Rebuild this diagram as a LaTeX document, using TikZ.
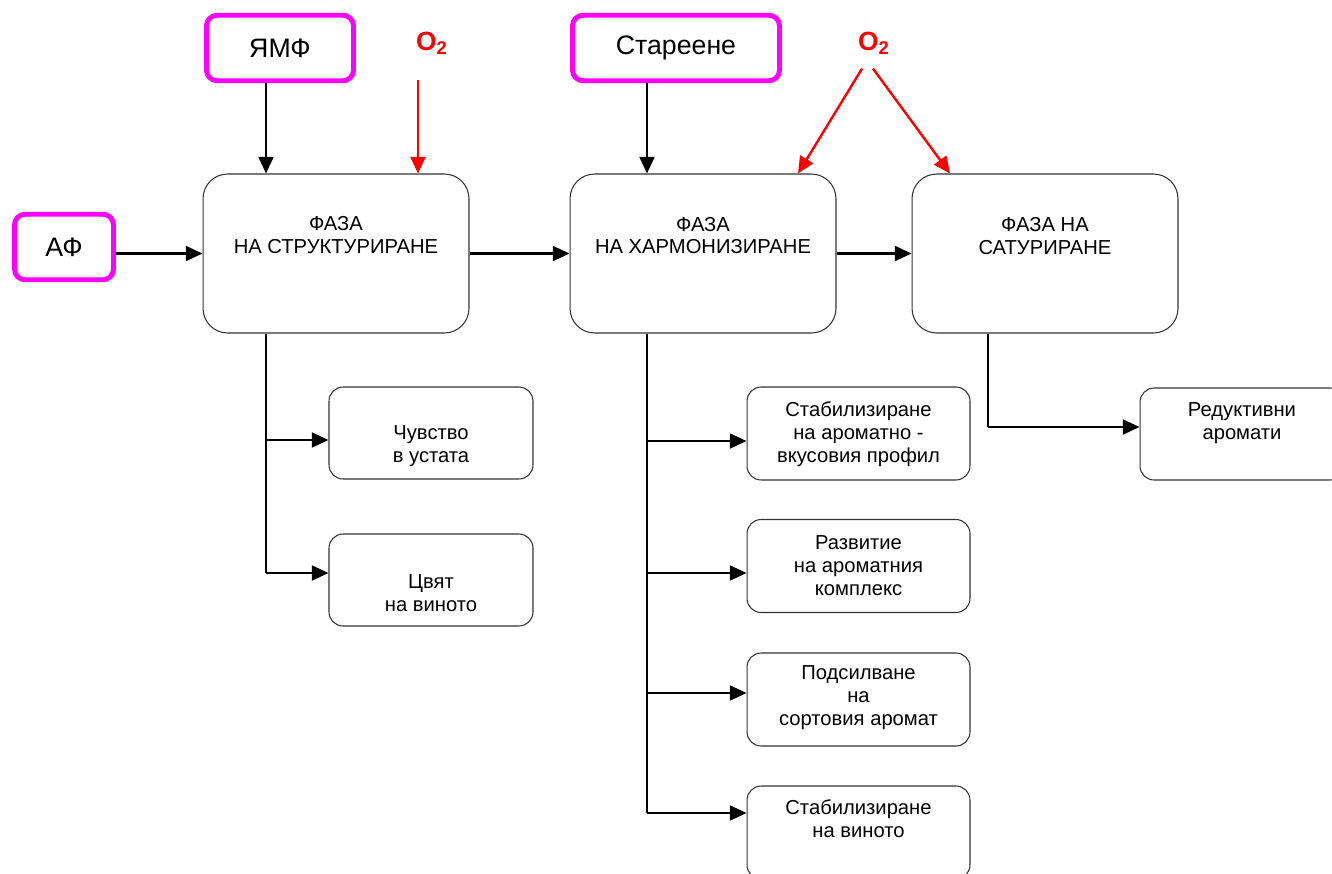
\documentclass[tikz,border=0pt]{standalone}
\usepackage{fontspec}
\setmainfont{Liberation Sans}
\usepackage{tikz}
\usetikzlibrary{arrows.meta}
\usetikzlibrary{calc}

\definecolor{mag}{RGB}{255,0,255}
\definecolor{oxred}{RGB}{255,0,0}

\tikzset{
  phasebox/.style={draw=black!80, line width=0.6pt, rounded corners=14pt,
    minimum width=5.32cm, minimum height=3.18cm},
  subbox/.style={draw=black!80, line width=0.6pt, rounded corners=8pt,
    minimum width=4.08cm, minimum height=1.84cm},
  subwide/.style={subbox, minimum width=4.46cm, minimum height=1.86cm},
  source/.style={draw=mag, line width=2.8pt, rounded corners=6pt,
    minimum height=1.31cm, font=\fontsize{15.2}{18}\selectfont},
  txt/.style={align=center, inner sep=0pt, font=\fontsize{11.5}{13}\selectfont},
  oxy/.style={text=oxred, inner sep=0pt, font=\fontsize{15}{18}\selectfont\bfseries},
  arr/.style={-{Triangle[length=9.5pt,width=8.5pt]}, line width=1.35pt},
  branch/.style={line width=0.7pt}
}

\begin{document}
\begin{tikzpicture}[x=0.02cm,y=-0.02cm]
\useasboundingbox (0,0) rectangle (1332,873);
\clip (0,0) rectangle (1332,873);

% inputs
\node[source, minimum width=2.94cm] (ymf) at (280,48) {ЯМФ};
\node[source, minimum width=4.14cm] (ageing) at (676,48) {Стареене};
\node[source, minimum width=1.98cm] (af) at (64,247) {АФ};
\node[oxy] (oxa) at (432,43) {O\textsubscript{2}};
\node[oxy] (oxb) at (874,43) {O\textsubscript{2}};

% phases
\node[phasebox] (ph1) at (336,253.5) {};
\node[txt] at ($(ph1)+(0,-18.5)$) {ФАЗА\\НА СТРУКТУРИРАНЕ};
\node[phasebox] (ph2) at (703,253.5) {};
\node[txt] at ($(ph2)+(0,-18)$) {ФАЗА\\НА ХАРМОНИЗИРАНЕ};
\node[phasebox] (ph3) at (1045,253.5) {};
\node[txt] at ($(ph3)+(0,-17.5)$) {ФАЗА НА\\САТУРИРАНЕ};

% results
\node[subbox] (mouth) at (431,433) {};
\node[txt] at ($(mouth)+(0,13)$) {Чувство\\в устата};
\node[subbox] (colour) at (431,580) {};
\node[txt] at ($(colour)+(0,13)$) {Цвят\\на виното};

\node[subwide] (stabprof) at (858.5,433.5) {};
\node[txt] at ($(stabprof)+(0,1)$) {Стабилизиране\\на ароматно -\\вкусовия профил};
\node[subwide] (devel) at (858.5,566) {};
\node[txt] at ($(devel)+(0,-0.5)$) {Развитие\\на ароматния\\комплекс};
\node[subwide] (varietal) at (858.5,699.5) {};
\node[txt] at ($(varietal)+(0,-2)$) {Подсилване\\на\\сортовия аромат};
\node[subwide] (stabwine) at (858.5,832.5) {};
\node[txt] at ($(stabwine)+(0,-13.5)$) {Стабилизиране\\на виното};

\node[subbox] (reduct) at (1242,434) {};
\node[txt] at ($(reduct)+(0,-10.5)$) {Редуктивни\\аромати};

% main flow
\draw[arr] (af.east |- ph1.west) -- (ph1.west);
\draw[arr] (ph1.east) -- (ph2.west);
\draw[arr] (ph2.east) -- (ph3.west);
\draw[arr] (ymf.south -| 266,0) -- (ph1.north -| 266,0);
\draw[arr] (ageing.south -| 647,0) -- (ph2.north -| 647,0);

% oxygen
\draw[arr, oxred] ($(oxa.south)+(-14,25)$) -- (ph1.north -| 418,0);
\draw[arr, oxred] ($(oxb.south)+(-12,14)$) -- (ph2.north -| 798,0);
\draw[arr, oxred] ($(oxb.south)+(-1,14)$) -- (ph3.north -| 950,0);

% branches
\draw[branch] (ph1.south -| 266,0) -- (266,573);
\draw[arr] (266,440) -- (mouth.west |- 266,440);
\draw[arr] (266,573) -- (colour.west |- 266,573);

\draw[branch] (ph2.south -| 647,0) -- (647,813);
\draw[arr] (647,441) -- (stabprof.west |- 647,441);
\draw[arr] (647,573) -- (devel.west |- 647,573);
\draw[arr] (647,693) -- (varietal.west |- 647,693);
\draw[arr] (647,813) -- (stabwine.west |- 647,813);

\draw[branch] (ph3.south -| 988,0) -- (988,427);
\draw[arr] (988,427) -- (reduct.west |- 988,427);

\end{tikzpicture}
\end{document}
